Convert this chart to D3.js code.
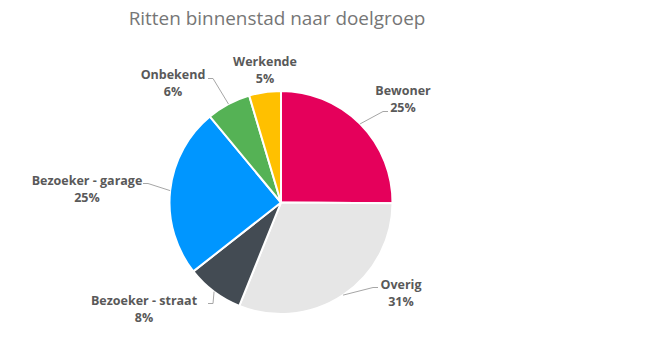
<!DOCTYPE html>
<html>
<head>
<meta charset="utf-8">
<script src="https://cdn.jsdelivr.net/npm/d3@7"></script>
<style>
  body { margin: 0; background: #fff; }
  text { font-family: "Open Sans", "Noto Sans", sans-serif; }
</style>
</head>
<body>
<div id="chart"></div>
<script>
var title = 'Ritten binnenstad naar doelgroep';
var categories = ['Bewoner', 'Overig', 'Bezoeker - straat', 'Bezoeker - garage', 'Onbekend', 'Werkende'];
var values = [25.1, 31.0, 8.3, 24.6, 6.4, 4.6];
var colors = ['#E5005B', '#E6E6E6', '#434B53', '#0096FF', '#55B255', '#FFC000'];

// label anchor offsets from the pie centre (Excel "best fit" placement)
var labelPos = [[122, -108], [120, 86], [-137, 102], [-194, -18], [-108, -124], [-16, -137]];
var leaderEnd = [[102, -91], [92, 85], [-68, 101], [-133, -19], [-68, -124], null];

var width = 667, height = 341;
var cx = 281, cy = 202.5, r = 111.5;

var svg = d3.select('#chart')
    .append('svg')
    .attr('width', width)
    .attr('height', height);

var t = svg.append('text')
    .attr('x', 277)
    .attr('y', 25)
    .attr('text-anchor', 'middle')
    .attr('fill', '#767676')
    .style('font-size', '20px')
    .text(title);
var tw = t.node().getComputedTextLength();
t.style('font-size', (20 * 297 / tw) + 'px');

var data = categories.map(function (c, i) {
    return { name: c, value: values[i], color: colors[i], pos: labelPos[i], lead: leaderEnd[i] };
});

var pie = d3.pie()
    .sort(null)
    .value(function (d) { return d.value; });

var arc = d3.arc().innerRadius(0).outerRadius(r);
var edge = d3.arc().innerRadius(r).outerRadius(r);

var g = svg.append('g').attr('transform', 'translate(' + cx + ',' + cy + ')');
var arcs = pie(data);

g.selectAll('path.slice')
    .data(arcs)
    .enter()
    .append('path')
    .attr('class', 'slice')
    .attr('d', arc)
    .attr('fill', function (d) { return d.data.color; })
    .attr('stroke', '#fff')
    .attr('stroke-width', 2)
    .attr('stroke-linejoin', 'round');

// leader lines
g.selectAll('polyline.lead')
    .data(arcs.filter(function (d) { return d.data.lead; }))
    .enter()
    .append('polyline')
    .attr('class', 'lead')
    .attr('fill', 'none')
    .attr('stroke', '#a6a6a6')
    .attr('stroke-width', 1)
    .attr('points', function (d) {
        var p = edge.centroid(d);
        var e = d.data.lead;
        var side = e[0] > 0 ? 1 : -1;
        return [p, e, [e[0] + side * 5, e[1]]].map(function (q) { return q.join(','); }).join(' ');
    });

var labels = g.selectAll('text.lbl')
    .data(arcs)
    .enter()
    .append('text')
    .attr('class', 'lbl')
    .attr('text-anchor', 'middle')
    .attr('fill', '#595959')
    .style('font-size', '12.5px')
    .style('font-weight', 'bold')
    .attr('transform', function (d) { return 'translate(' + d.data.pos[0] + ',' + d.data.pos[1] + ')'; });

labels.append('tspan')
    .attr('x', 0)
    .attr('y', 0)
    .text(function (d) { return d.data.name; });
labels.append('tspan')
    .attr('x', 0)
    .attr('y', 17)
    .text(function (d) { return Math.round(d.data.value) + '%'; });
</script>
</body>
</html>
